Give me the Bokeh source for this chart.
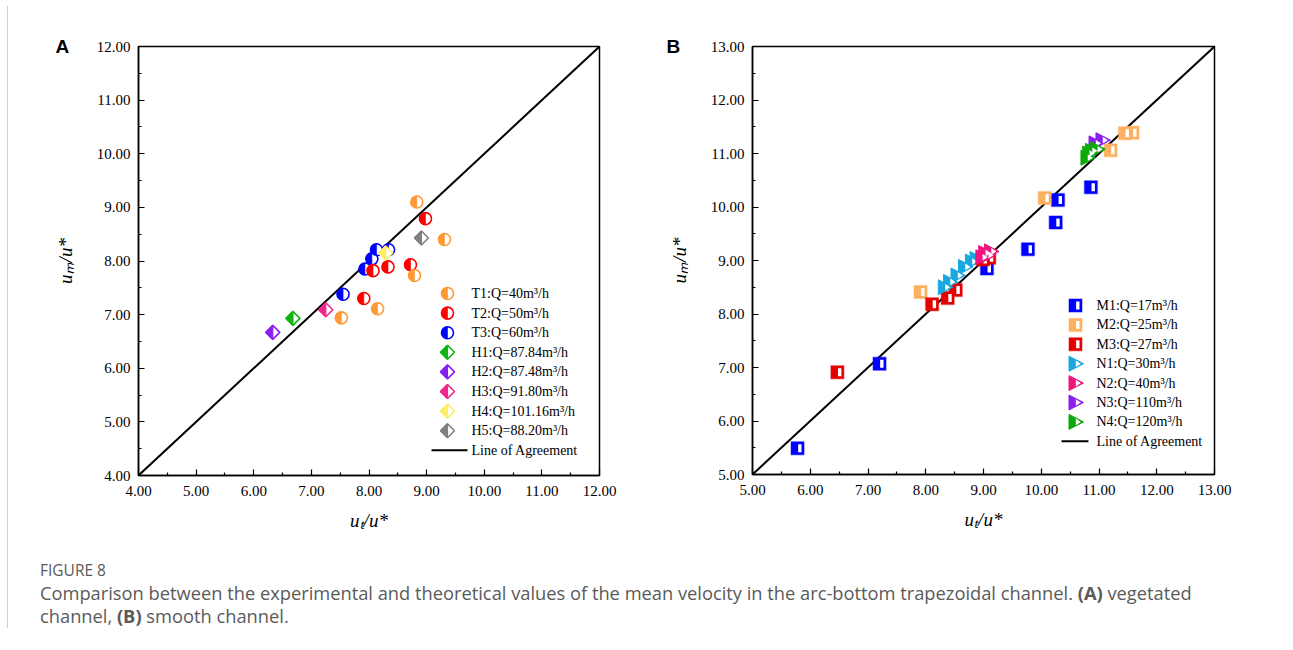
import math
from bokeh.plotting import figure
from bokeh.models import Range1d, FixedTicker, PrintfTickFormatter, Title, Div
from bokeh.layouts import row, column
from bokeh.embed import file_html
from bokeh.resources import INLINE
from bokeh.core.properties import value

# ---------------- Panel A data (vegetated channel) ----------------
T1_ut = [8.83, 9.31, 8.79, 8.15, 7.52]
T1_um = [9.10, 8.40, 7.73, 7.11, 6.94]
T2_ut = [8.98, 8.72, 8.33, 8.07, 7.91]
T2_um = [8.79, 7.93, 7.89, 7.82, 7.30]
T3_ut = [8.13, 8.34, 8.05, 7.93, 7.55]
T3_um = [8.21, 8.21, 8.04, 7.85, 7.38]
H1_ut = [6.68]; H1_um = [6.93]
H2_ut = [6.33]; H2_um = [6.67]
H3_ut = [7.25]; H3_um = [7.09]
H4_ut = [8.29]; H4_um = [8.15]
H5_ut = [8.91]; H5_um = [8.43]
A_labels = ["T1:Q=40m³/h", "T2:Q=50m³/h", "T3:Q=60m³/h", "H1:Q=87.84m³/h",
            "H2:Q=87.48m³/h", "H3:Q=91.80m³/h", "H4:Q=101.16m³/h", "H5:Q=88.20m³/h",
            "Line of Agreement"]
A_colors = ["#FF9933", "#FF0000", "#0000FF", "#11B411", "#8A1FF0", "#F0288C", "#FFEE66", "#808080"]
A_ticks = [4, 5, 6, 7, 8, 9, 10, 11, 12]

# ---------------- Panel B data (smooth channel) ----------------
M1_ut = [5.78, 7.20, 9.06, 9.77, 10.25, 10.29, 10.86]
M1_um = [5.49, 7.07, 8.85, 9.21, 9.71, 10.13, 10.37]
M2_ut = [7.91, 10.06, 11.20, 11.45, 11.58]
M2_um = [8.41, 10.17, 11.06, 11.38, 11.39]
M3_ut = [6.47, 8.11, 8.38, 8.52, 8.99, 9.10]
M3_um = [6.91, 8.18, 8.30, 8.45, 9.02, 9.05]
N1_ut = [8.33, 8.42, 8.55, 8.68, 8.80, 8.88]
N1_um = [8.50, 8.60, 8.72, 8.88, 8.98, 9.03]
N2_ut = [8.98, 9.03, 9.08, 9.13]
N2_um = [9.06, 9.14, 9.10, 9.17]
N3_ut = [10.94, 11.06]
N3_um = [11.19, 11.25]
N4_ut = [10.80, 10.83, 10.88, 10.97]
N4_um = [10.92, 11.00, 11.05, 11.08]
B_labels = ["M1:Q=17m³/h", "M2:Q=25m³/h", "M3:Q=27m³/h", "N1:Q=30m³/h",
            "N2:Q=40m³/h", "N3:Q=110m³/h", "N4:Q=120m³/h", "Line of Agreement"]
B_colors = ["#0000FF", "#FDB060", "#E60000", "#19A8E0", "#F0147F", "#8A1FF0", "#0AAA0A"]
B_ticks = [5, 6, 7, 8, 9, 10, 11, 12, 13]

SERIF = "Liberation Serif"


def make_fig(ticks, fw, fh, bl, br, name, name_dx):
    lo, hi = ticks[0], ticks[-1]
    p = figure(frame_width=fw, frame_height=fh, x_range=Range1d(lo, hi), y_range=Range1d(lo, hi),
               output_backend="svg", toolbar_location=None, title=None,
               min_border_left=bl, min_border_right=br, min_border_top=40, min_border_bottom=62)
    p.grid.visible = False
    p.outline_line_color = "black"
    p.outline_line_width = 1.5
    p.background_fill_color = "white"
    p.border_fill_color = "white"
    minors = [t + 0.5 for t in ticks[:-1]]
    for ax in (p.xaxis[0], p.yaxis[0]):
        ax.ticker = FixedTicker(ticks=ticks, minor_ticks=minors)
        ax.formatter = PrintfTickFormatter(format="%.2f")
        ax.major_tick_in = 6
        ax.major_tick_out = 0
        ax.minor_tick_in = 3
        ax.minor_tick_out = 0
        ax.major_tick_line_color = "black"
        ax.minor_tick_line_color = "black"
        ax.major_tick_line_width = 1.2
        ax.minor_tick_line_width = 1.2
        ax.axis_line_color = "black"
        ax.axis_line_width = 1.5
        ax.major_label_text_font = SERIF
        ax.major_label_text_font_size = "15px"
        ax.major_label_text_color = "black"
        ax.axis_label_text_font = SERIF
        ax.axis_label_text_font_size = "19px"
        ax.axis_label_text_font_style = "italic"
        ax.axis_label_text_color = "black"
    p.xaxis.axis_label = "uₜ/u*"
    p.yaxis.axis_label = "uₘ/u*"
    p.xaxis.major_label_standoff = 10
    p.yaxis.major_label_standoff = 8
    p.xaxis.axis_label_standoff = 11
    p.yaxis.axis_label_standoff = 18
    p.add_layout(Title(text=name, align="left", offset=-name_dx, standoff=-24,
                       vertical_align="middle", text_font="Liberation Sans",
                       text_font_style="bold", text_font_size="19px", text_color="black"), "above")
    kx = fw / (hi - lo)
    ky = fh / (hi - lo)
    return p, kx, ky


def polys(xs, ys, verts, kx, ky):
    px = [[x + vx / kx for vx, vy in verts] for x in xs]
    py = [[y + vy / ky for vx, vy in verts] for y in ys]
    return px, py


def half_circle(p, xs, ys, color, kx, ky):
    p.scatter(xs, ys, marker="circle", size=12, fill_color="white", line_color=color, line_width=1.6)
    p.wedge(xs, ys, radius=6, radius_units="screen", start_angle=math.pi / 2,
            end_angle=3 * math.pi / 2, fill_color=color, line_color=color, line_width=0.6)


def half_diamond(p, xs, ys, color, kx, ky):
    r = 7
    ox, oy = polys(xs, ys, [(0, r), (r, 0), (0, -r), (-r, 0)], kx, ky)
    p.patches(ox, oy, fill_color="white", line_color=color, line_width=1.6)
    lx, ly = polys(xs, ys, [(0, r), (0, -r), (-r, 0)], kx, ky)
    p.patches(lx, ly, fill_color=color, line_color=color, line_width=1.2)


def half_square(p, xs, ys, color, kx, ky):
    p.rect(xs, ys, width=13, height=13, width_units="screen", height_units="screen",
           fill_color=color, line_color=color, line_alpha=0.35, line_width=1.5)
    p.rect([x + 2.3 / kx for x in xs], ys, width=3.4, height=8, width_units="screen",
           height_units="screen", fill_color="white", line_color=None)


def half_triangle(p, xs, ys, color, kx, ky):
    ox, oy = polys(xs, ys, [(-6.5, 7.5), (8, 0), (-6.5, -7.5)], kx, ky)
    p.patches(ox, oy, fill_color=color, line_color=color, line_width=1)
    ix, iy = polys(xs, ys, [(0.3, 3.3), (5.4, 0), (0.3, -3.3)], kx, ky)
    p.patches(ix, iy, fill_color="white", line_color=None)


def to_data(px, py, left, top, lo, hi, kx, ky):
    return lo + (px - left) / kx, hi - (py - top) / ky


# ---------------- Panel A ----------------
pA, kxA, kyA = make_fig(A_ticks, 461, 429, 130, 20, "A", 83)
loA, hiA = A_ticks[0], A_ticks[-1]
pA.line([loA, hiA], [loA, hiA], line_color="black", line_width=2)
A_series = [(T1_ut, T1_um), (T2_ut, T2_um), (T3_ut, T3_um), (H1_ut, H1_um), (H2_ut, H2_um),
            (H3_ut, H3_um), (H4_ut, H4_um), (H5_ut, H5_um)]
for i in [2, 1, 0]:
    half_circle(pA, A_series[i][0], A_series[i][1], A_colors[i], kxA, kyA)
for i in range(3, 8):
    half_diamond(pA, A_series[i][0], A_series[i][1], A_colors[i], kxA, kyA)

# legend A (layout in page pixels -> data)
fl, ft = 139, 48
rowsA = [295 + 19.6 * i for i in range(len(A_labels))]
for i, lab in enumerate(A_labels):
    mx, my = to_data(448, rowsA[i], fl, ft, loA, hiA, kxA, kyA)
    tx, _ = to_data(472, rowsA[i], fl, ft, loA, hiA, kxA, kyA)
    if i < 3:
        half_circle(pA, [mx], [my], A_colors[i], kxA, kyA)
    elif i < 8:
        half_diamond(pA, [mx], [my], A_colors[i], kxA, kyA)
    else:
        x1, _ = to_data(432, rowsA[i], fl, ft, loA, hiA, kxA, kyA)
        x2, _ = to_data(468, rowsA[i], fl, ft, loA, hiA, kxA, kyA)
        pA.line([x1, x2], [my, my], line_color="black", line_width=2)
    pA.text([tx], [my], text=[lab], text_font=value(SERIF), text_font_size=value("14px"),
            text_baseline="middle", text_align="left", text_color="black")

# ---------------- Panel B ----------------
pB, kxB, kyB = make_fig(B_ticks, 462, 428, 133, 60, "B", 86)
loB, hiB = B_ticks[0], B_ticks[-1]
pB.line([loB, hiB], [loB, hiB], line_color="black", line_width=2)
B_series = [(M1_ut, M1_um), (M2_ut, M2_um), (M3_ut, M3_um), (N1_ut, N1_um), (N2_ut, N2_um),
            (N3_ut, N3_um), (N4_ut, N4_um)]
for i in range(3):
    half_square(pB, B_series[i][0], B_series[i][1], B_colors[i], kxB, kyB)
for i in range(3, 7):
    half_triangle(pB, B_series[i][0], B_series[i][1], B_colors[i], kxB, kyB)

flB, ftB = 753, 48
rowsB = [307 + 19.4 * i for i in range(len(B_labels))]
for i, lab in enumerate(B_labels):
    mx, my = to_data(1076, rowsB[i], flB, ftB, loB, hiB, kxB, kyB)
    tx, _ = to_data(1097, rowsB[i], flB, ftB, loB, hiB, kxB, kyB)
    if i < 3:
        half_square(pB, [mx], [my], B_colors[i], kxB, kyB)
    elif i < 7:
        half_triangle(pB, [mx], [my], B_colors[i], kxB, kyB)
    else:
        x1, _ = to_data(1062, rowsB[i], flB, ftB, loB, hiB, kxB, kyB)
        x2, _ = to_data(1089, rowsB[i], flB, ftB, loB, hiB, kxB, kyB)
        pB.line([x1, x2], [my, my], line_color="black", line_width=2)
    pB.text([tx], [my], text=[lab], text_font=value(SERIF), text_font_size=value("14px"),
            text_baseline="middle", text_align="left", text_color="black")

caption = Div(text=(
    "<div style=\"font-family:'Open Sans';color:#5a5a5a;\">"
    "<div style='font-size:15.5px;line-height:18px;'>FIGURE 8</div>"
    "<div style='font-size:18.3px;line-height:23px;margin-top:2px;white-space:nowrap;'>"
    "Comparison between the experimental and theoretical values of the mean velocity in the "
    "arc-bottom trapezoidal channel. <b>(A)</b> vegetated<br>channel, <b>(B)</b> smooth channel."
    "</div></div>"), margin=(24, 0, 0, 32), width=1200)

layout = column(row(pA, pB), caption, margin=(6, 0, 0, 7),
                styles={"border-left": "1px solid #cfcfcf"})

open("out.html", "w").write(file_html(layout, INLINE))
